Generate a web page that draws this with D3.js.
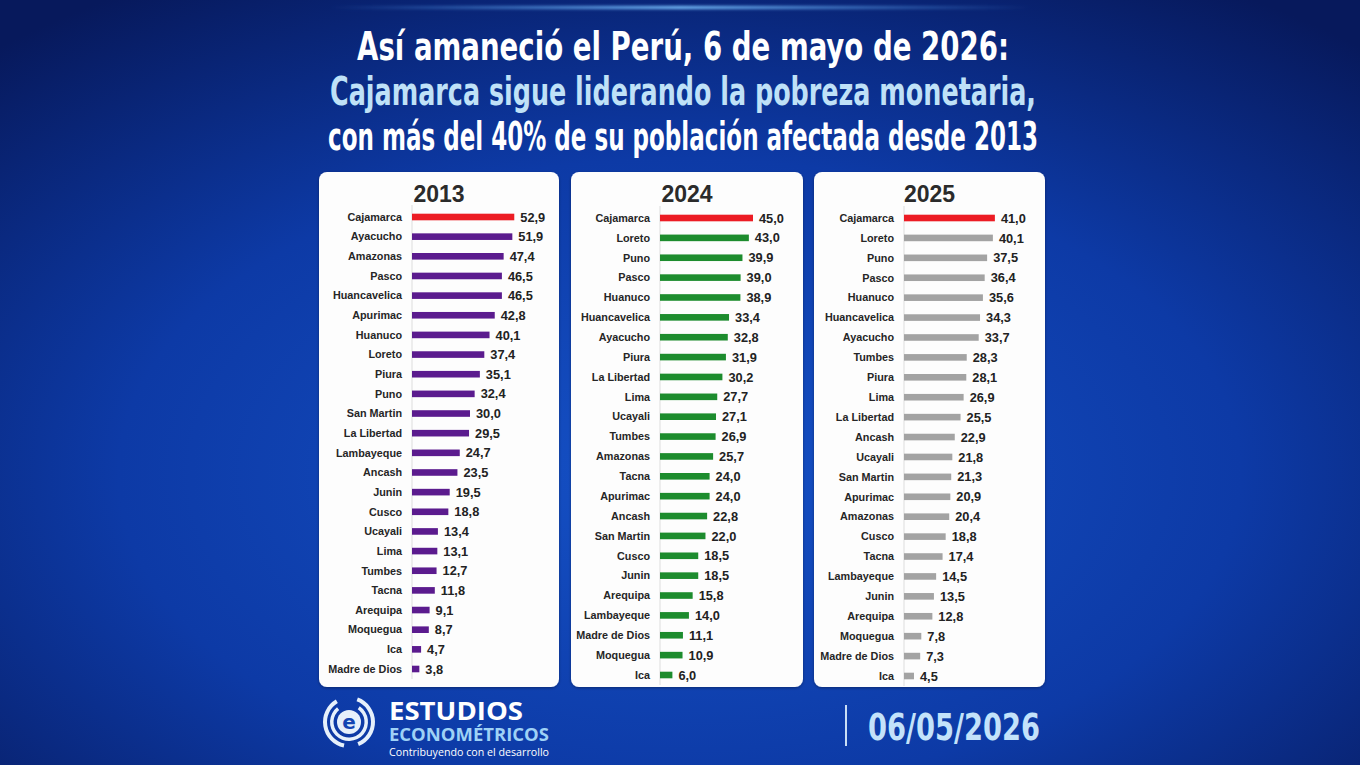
<!DOCTYPE html>
<html><head><meta charset="utf-8">
<script src="https://cdn.jsdelivr.net/npm/d3@7/dist/d3.min.js"></script>
<style>html,body{margin:0;padding:0;background:#0a2a8a;overflow:hidden}svg{display:block}</style>
</head><body>
<svg id="c" width="1360" height="765"></svg>
<script>
// ---------- DATA ----------
const years = ["2013", "2024", "2025"];
const regions2013 = ["Cajamarca","Ayacucho","Amazonas","Pasco","Huancavelica","Apurimac","Huanuco","Loreto","Piura","Puno","San Martin","La Libertad","Lambayeque","Ancash","Junin","Cusco","Ucayali","Lima","Tumbes","Tacna","Arequipa","Moquegua","Ica","Madre de Dios"];
const values2013 = [52.9,51.9,47.4,46.5,46.5,42.8,40.1,37.4,35.1,32.4,30.0,29.5,24.7,23.5,19.5,18.8,13.4,13.1,12.7,11.8,9.1,8.7,4.7,3.8];
const regions2024 = ["Cajamarca","Loreto","Puno","Pasco","Huanuco","Huancavelica","Ayacucho","Piura","La Libertad","Lima","Ucayali","Tumbes","Amazonas","Tacna","Apurimac","Ancash","San Martin","Cusco","Junin","Arequipa","Lambayeque","Madre de Dios","Moquegua","Ica"];
const values2024 = [45.0,43.0,39.9,39.0,38.9,33.4,32.8,31.9,30.2,27.7,27.1,26.9,25.7,24.0,24.0,22.8,22.0,18.5,18.5,15.8,14.0,11.1,10.9,6.0];
const regions2025 = ["Cajamarca","Loreto","Puno","Pasco","Huanuco","Huancavelica","Ayacucho","Tumbes","Piura","Lima","La Libertad","Ancash","Ucayali","San Martin","Apurimac","Amazonas","Cusco","Tacna","Lambayeque","Junin","Arequipa","Moquegua","Madre de Dios","Ica"];
const values2025 = [41.0,40.1,37.5,36.4,35.6,34.3,33.7,28.3,28.1,26.9,25.5,22.9,21.8,21.3,20.9,20.4,18.8,17.4,14.5,13.5,12.8,7.8,7.3,4.5];
const titleLines = ["Así amaneció el Perú, 6 de mayo de 2026:", "Cajamarca sigue liderando la pobreza monetaria,", "con más del 40% de su población afectada desde 2013"];
const highlight = "Cajamarca";

// ---------- LAYOUT ----------
const svg = d3.select("#c");
const defs = svg.append("defs");
const bg = defs.append("radialGradient").attr("id","bg").attr("cx","50%").attr("cy","62%").attr("r","75%");
bg.append("stop").attr("offset","0%").attr("stop-color","#1551c6");
bg.append("stop").attr("offset","55%").attr("stop-color","#0d3aa6");
bg.append("stop").attr("offset","100%").attr("stop-color","#07195c");
svg.append("rect").attr("width",1360).attr("height",765).attr("fill","url(#bg)");
const topG = defs.append("linearGradient").attr("id","topline");
topG.append("stop").attr("offset","0%").attr("stop-color","#5aa8ff").attr("stop-opacity",0);
topG.append("stop").attr("offset","50%").attr("stop-color","#7cc4ff").attr("stop-opacity",1);
topG.append("stop").attr("offset","100%").attr("stop-color","#5aa8ff").attr("stop-opacity",0);
const blur = defs.append("filter").attr("id","glow").attr("x","-10%").attr("y","-300%").attr("width","120%").attr("height","700%");
blur.append("feGaussianBlur").attr("stdDeviation",1.5);
svg.append("rect").attr("x",330).attr("y",6).attr("width",700).attr("height",3).attr("fill","url(#topline)").attr("filter","url(#glow)");

const shadow = defs.append("filter").attr("id","sh").attr("x","-5%").attr("y","-5%").attr("width","110%").attr("height","110%");
shadow.append("feDropShadow").attr("dx",0).attr("dy",1).attr("stdDeviation",1.5).attr("flood-color","#000").attr("flood-opacity",0.35);

// Title
const titleFont = "'Liberation Sans Narrow','DejaVu Sans Condensed','Roboto',sans-serif";
const tl = [
  {y:60, w:652, fill:"#ffffff"},
  {y:105, w:706, fill:"#bfe1f7"},
  {y:150, w:710, fill:"#ffffff"}
];
titleLines.forEach((t,i)=>{
  svg.append("text").attr("x",683).attr("y",tl[i].y).attr("text-anchor","middle")
    .attr("font-family",titleFont).attr("font-weight","bold").attr("font-size",39)
    .attr("fill",tl[i].fill).attr("textLength",tl[i].w).attr("lengthAdjust","spacingAndGlyphs")
    .text(t);
});

// Panels
const panels = [
  {year:years[0], cats:regions2013, vals:values2013, px:319, pw:240, barX:412, span:116, color:"#5b1b8e", y0:217, y1:669},
  {year:years[1], cats:regions2024, vals:values2024, px:571, pw:232, barX:660, span:124, color:"#1d8c2e", y0:218, y1:675},
  {year:years[2], cats:regions2025, vals:values2025, px:814, pw:231, barX:904, span:133, color:"#a3a3a3", y0:218, y1:676}
];
const fmt = v => d3.format(".1f")(v).replace(".", ",");

panels.forEach(p=>{
  const g = svg.append("g");
  g.append("rect").attr("x",p.px).attr("y",172).attr("width",p.pw).attr("height",515).attr("rx",8)
    .attr("fill","#fdfdfd").attr("filter","url(#sh)");
  g.append("text").attr("x",p.px+p.pw/2).attr("y",202).attr("text-anchor","middle")
    .attr("font-family","'Liberation Sans',Arial,sans-serif").attr("font-weight","bold")
    .attr("font-size",23).attr("fill","#2b2b2b").text(p.year);
  const x = d3.scaleLinear().domain([0,60]).range([p.barX, p.barX+p.span]);
  const y = d3.scalePoint().domain(p.cats).range([p.y0, p.y1]);
  g.append("line").attr("x1",p.barX).attr("x2",p.barX).attr("y1",p.y0-12).attr("y2",p.y1+10)
    .attr("stroke","#e3e3e3").attr("stroke-width",1.2);
  const rows = g.selectAll("g.row").data(p.cats.map((c,i)=>({c, v:p.vals[i]}))).join("g").attr("class","row");
  rows.append("rect").attr("x",x(0)).attr("y",d=>y(d.c)-3.3).attr("height",6.6)
    .attr("width",d=>x(d.v)-x(0)).attr("fill",d=>d.c===highlight?"#ec1c24":p.color);
  rows.append("text").attr("x",p.barX-10).attr("y",d=>y(d.c)).attr("dy","0.35em").attr("text-anchor","end")
    .attr("font-family","'Liberation Sans',Arial,sans-serif").attr("font-weight","bold").attr("font-size",10.8)
    .attr("fill","#262626").text(d=>d.c);
  rows.append("text").attr("x",d=>x(d.v)+6).attr("y",d=>y(d.c)).attr("dy","0.36em")
    .attr("font-family","'Liberation Sans',Arial,sans-serif").attr("font-weight","bold").attr("font-size",12.8)
    .attr("fill","#222").text(d=>fmt(d.v));
});

// Footer logo
const lg = svg.append("g").attr("transform","translate(349,722)");
const arc = d3.arc();
[[26,22,0.35,2.75],[26,22,3.35,5.75],[19,15.5,0.6,5.6]].forEach(a=>{
  lg.append("path").attr("d",arc({innerRadius:a[1],outerRadius:a[0],startAngle:a[2],endAngle:a[3]})).attr("fill","#e6f0fb");
});
lg.append("circle").attr("r",12).attr("fill","#e6f0fb");
lg.append("text").attr("y",7).attr("text-anchor","middle").attr("font-family","'DejaVu Sans',sans-serif")
  .attr("font-weight","bold").attr("font-size",20).attr("fill","#1345b3").text("e");

svg.append("text").attr("x",389).attr("y",720).attr("font-family","'Open Sans','DejaVu Sans',sans-serif")
  .attr("font-weight","bold").attr("font-size",25).attr("fill","#ffffff").attr("textLength",134).attr("lengthAdjust","spacingAndGlyphs").text("ESTUDIOS");
svg.append("text").attr("x",389).attr("y",741).attr("font-family","'Open Sans','DejaVu Sans',sans-serif")
  .attr("font-weight","bold").attr("font-size",17).attr("fill","#9ed2f6").attr("textLength",160).attr("lengthAdjust","spacingAndGlyphs").text("ECONOMÉTRICOS");
svg.append("text").attr("x",389).attr("y",756).attr("font-family","'Open Sans','DejaVu Sans',sans-serif")
  .attr("font-size",10.5).attr("fill","#ffffff").attr("textLength",160).attr("lengthAdjust","spacingAndGlyphs").text("Contribuyendo con el desarrollo");

svg.append("line").attr("x1",846).attr("x2",846).attr("y1",705).attr("y2",746).attr("stroke","#c9def5").attr("stroke-width",2);
svg.append("text").attr("x",868).attr("y",740).attr("font-family",titleFont).attr("font-weight","bold")
  .attr("font-size",37).attr("fill","#c3e2fa").attr("textLength",172).attr("lengthAdjust","spacingAndGlyphs").text("06/05/2026");
</script>
</body></html>
